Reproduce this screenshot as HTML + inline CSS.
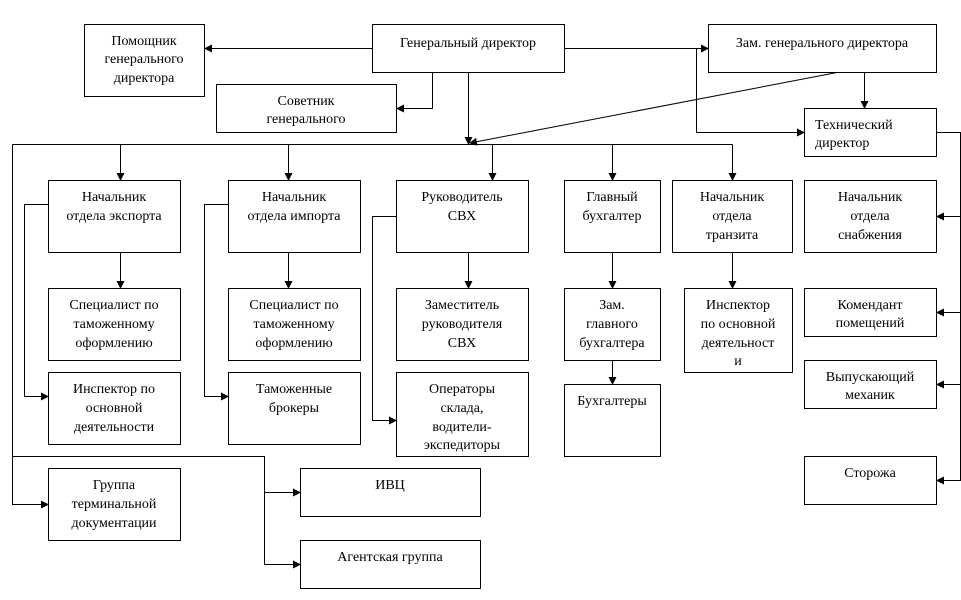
<!DOCTYPE html>
<html><head><meta charset="utf-8"><style>
body{margin:0;background:#fff}
svg{display:block}
svg text{font-family:"Liberation Serif","Times New Roman",serif;font-size:14px;fill:#000}
</style></head><body>
<svg width="961" height="600" viewBox="0 0 961 600" xmlns="http://www.w3.org/2000/svg" font-family="Liberation Serif, Times New Roman, serif" font-size="14">
<defs><marker id="a" markerWidth="8" markerHeight="8" refX="7" refY="4" orient="auto" markerUnits="userSpaceOnUse"><path d="M0,0 L8,4 L0,8 z" fill="#000"/></marker></defs>
<g fill="none" stroke="#000" stroke-width="1">
<rect x="84.5" y="24.5" width="120" height="72"/>
<rect x="372.5" y="24.5" width="192" height="48"/>
<rect x="216.5" y="84.5" width="180" height="48"/>
<rect x="708.5" y="24.5" width="228" height="48"/>
<rect x="804.5" y="108.5" width="132" height="48"/>
<rect x="48.5" y="180.5" width="132" height="72"/>
<rect x="228.5" y="180.5" width="132" height="72"/>
<rect x="396.5" y="180.5" width="132" height="72"/>
<rect x="564.5" y="180.5" width="96" height="72"/>
<rect x="672.5" y="180.5" width="120" height="72"/>
<rect x="804.5" y="180.5" width="132" height="72"/>
<rect x="48.5" y="288.5" width="132" height="72"/>
<rect x="228.5" y="288.5" width="132" height="72"/>
<rect x="396.5" y="288.5" width="132" height="72"/>
<rect x="564.5" y="288.5" width="96" height="72"/>
<rect x="684.5" y="288.5" width="108" height="84"/>
<rect x="804.5" y="288.5" width="132" height="48"/>
<rect x="48.5" y="372.5" width="132" height="72"/>
<rect x="228.5" y="372.5" width="132" height="72"/>
<rect x="396.5" y="372.5" width="132" height="84"/>
<rect x="564.5" y="384.5" width="96" height="72"/>
<rect x="804.5" y="360.5" width="132" height="48"/>
<rect x="804.5" y="456.5" width="132" height="48"/>
<rect x="48.5" y="468.5" width="132" height="72"/>
<rect x="300.5" y="468.5" width="180" height="48"/>
<rect x="300.5" y="540.5" width="180" height="48"/>
</g>
<g fill="none" stroke="#000" stroke-width="1">
<path d="M372.5,48.5 H205" marker-end="url(#a)"/>
<path d="M432.5,72.5 V108.5 H397" marker-end="url(#a)"/>
<path d="M564.5,48.5 H708" marker-end="url(#a)"/>
<path d="M696.5,48.5 V132.5 H804" marker-end="url(#a)"/>
<path d="M864.5,72.5 V108" marker-end="url(#a)"/>
<path d="M468.5,72.5 V144" marker-end="url(#a)"/>
<path d="M837,72.5 L470,143" marker-end="url(#a)"/>
<path d="M12.5,144.5 H732.5"/>
<path d="M120.5,144.5 V180" marker-end="url(#a)"/>
<path d="M288.5,144.5 V180" marker-end="url(#a)"/>
<path d="M492.5,144.5 V180" marker-end="url(#a)"/>
<path d="M612.5,144.5 V180" marker-end="url(#a)"/>
<path d="M732.5,144.5 V180" marker-end="url(#a)"/>
<path d="M120.5,252.5 V288" marker-end="url(#a)"/>
<path d="M288.5,252.5 V288" marker-end="url(#a)"/>
<path d="M468.5,252.5 V288" marker-end="url(#a)"/>
<path d="M612.5,252.5 V288" marker-end="url(#a)"/>
<path d="M732.5,252.5 V288" marker-end="url(#a)"/>
<path d="M612.5,360.5 V384" marker-end="url(#a)"/>
<path d="M48.5,204.5 H24.5 V396.5 H48" marker-end="url(#a)"/>
<path d="M228.5,204.5 H204.5 V396.5 H228" marker-end="url(#a)"/>
<path d="M396.5,216.5 H372.5 V420.5 H396" marker-end="url(#a)"/>
<path d="M12.5,144.5 V504.5 H48" marker-end="url(#a)"/>
<path d="M12.5,456.5 H264.5 V564.5 H300" marker-end="url(#a)"/>
<path d="M264.5,492.5 H300" marker-end="url(#a)"/>
<path d="M936.5,132.5 H960.5 V480.5 H937" marker-end="url(#a)"/>
<path d="M960.5,216.5 H937" marker-end="url(#a)"/>
<path d="M960.5,312.5 H937" marker-end="url(#a)"/>
<path d="M960.5,384.5 H937" marker-end="url(#a)"/>
</g>
<g text-anchor="middle" font-family="Liberation Serif, Times New Roman, serif">
<text x="144" y="45">Помощник</text><text x="144" y="63">генерального</text><text x="144" y="82">директора</text>
<text x="468" y="47">Генеральный директор</text>
<text x="306" y="105">Советник</text><text x="306" y="123">генерального</text>
<text x="822" y="47">Зам. генерального директора</text>
<text x="114" y="201">Начальник</text><text x="114" y="220">отдела экспорта</text>
<text x="294" y="201">Начальник</text><text x="294" y="220">отдела импорта</text>
<text x="462" y="201">Руководитель</text><text x="462" y="220">СВХ</text>
<text x="612" y="201">Главный</text><text x="612" y="220">бухгалтер</text>
<text x="732" y="201">Начальник</text><text x="732" y="220">отдела</text><text x="732" y="239">транзита</text>
<text x="870" y="201">Начальник</text><text x="870" y="220">отдела</text><text x="870" y="239">снабжения</text>
<text x="114" y="309">Специалист по</text><text x="114" y="328">таможенному</text><text x="114" y="347">оформлению</text>
<text x="294" y="309">Специалист по</text><text x="294" y="328">таможенному</text><text x="294" y="347">оформлению</text>
<text x="462" y="309">Заместитель</text><text x="462" y="328">руководителя</text><text x="462" y="347">СВХ</text>
<text x="612" y="309">Зам.</text><text x="612" y="328">главного</text><text x="612" y="347">бухгалтера</text>
<text x="738" y="309">Инспектор</text><text x="738" y="328">по основной</text><text x="738" y="347">деятельност</text><text x="738" y="365">и</text>
<text x="870" y="309">Комендант</text><text x="870" y="327">помещений</text>
<text x="114" y="393">Инспектор по</text><text x="114" y="412">основной</text><text x="114" y="431">деятельности</text>
<text x="294" y="393">Таможенные</text><text x="294" y="412">брокеры</text>
<text x="462" y="393">Операторы</text><text x="462" y="412">склада,</text><text x="462" y="431">водители-</text><text x="462" y="449">экспедиторы</text>
<text x="612" y="405">Бухгалтеры</text>
<text x="870" y="381">Выпускающий</text><text x="870" y="399">механик</text>
<text x="870" y="477">Сторожа</text>
<text x="114" y="489">Группа</text><text x="114" y="508">терминальной</text><text x="114" y="527">документации</text>
<text x="390" y="489">ИВЦ</text>
<text x="390" y="561">Агентская группа</text>
</g>
<g font-family="Liberation Serif, Times New Roman, serif">
<text x="815" y="129">Технический</text><text x="815" y="147">директор</text>
</g>
</svg>
</body></html>
